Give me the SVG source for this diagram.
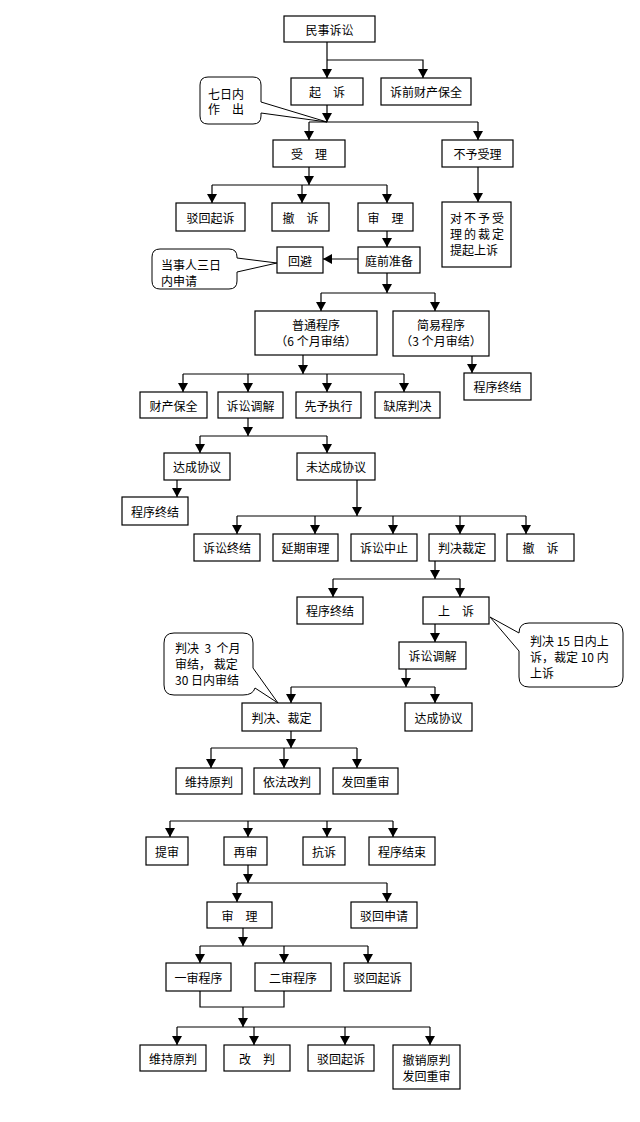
<svg xmlns="http://www.w3.org/2000/svg" width="640" height="1122" viewBox="0 0 640 1122">
<style>
.box{fill:#fff;stroke:#000;stroke-width:1.2}
.call{fill:#fff;stroke:#000;stroke-width:1}
.t{font-family:"Noto Sans CJK SC","Noto Sans",sans-serif;font-size:12px;fill:#000;text-anchor:middle;dominant-baseline:central}
.l{text-anchor:start}
.c{fill:none;stroke:#000;stroke-width:1.2}
.a{marker-end:url(#arr)}
</style>
<defs>
<marker id="arr" markerUnits="userSpaceOnUse" markerWidth="11" markerHeight="11" refX="9" refY="5" orient="auto">
<path d="M0,0 L9,5 L0,10 Z" fill="#000"/>
</marker>
</defs>
<rect width="640" height="1122" fill="#fff"/>
<g id="connectors">
<path class="c a" d="M327,42 V78"/>
<path class="c a" d="M327,60 H423 V78"/>
<path class="c a" d="M327,105 V122"/>
<path class="c" d="M309,122 H478"/>
<path class="c a" d="M309,122 V140"/>
<path class="c a" d="M478,122 V140"/>
<path class="c a" d="M309,167 V185"/>
<path class="c" d="M212,185 H387"/>
<path class="c a" d="M212,185 V203"/>
<path class="c a" d="M302,185 V203"/>
<path class="c a" d="M387,185 V203"/>
<path class="c a" d="M478,167 V202"/>
<path class="c a" d="M387,231 V247"/>
<path class="c a" d="M358,259 H323"/>
<path class="c a" d="M387,273 V293"/>
<path class="c" d="M321,293 H435"/>
<path class="c a" d="M321,293 V311"/>
<path class="c a" d="M435,293 V311"/>
<path class="c a" d="M472,356 V373"/>
<path class="c a" d="M303,355 V374"/>
<path class="c" d="M183,374 H404"/>
<path class="c a" d="M183,374 V392"/>
<path class="c a" d="M248,374 V392"/>
<path class="c a" d="M327,374 V392"/>
<path class="c a" d="M404,374 V392"/>
<path class="c a" d="M248,418 V436"/>
<path class="c" d="M200,436 H327"/>
<path class="c a" d="M200,436 V453"/>
<path class="c a" d="M327,436 V453"/>
<path class="c a" d="M177,480 V497"/>
<path class="c a" d="M357,480 V516"/>
<path class="c" d="M237,516 H526"/>
<path class="c a" d="M237,516 V534"/>
<path class="c a" d="M315,516 V534"/>
<path class="c a" d="M393,516 V534"/>
<path class="c a" d="M460,516 V534"/>
<path class="c a" d="M526,516 V534"/>
<path class="c a" d="M435,561 V579"/>
<path class="c" d="M333,579 H460"/>
<path class="c a" d="M333,579 V597"/>
<path class="c a" d="M460,579 V597"/>
<path class="c a" d="M435,624 V642"/>
<path class="c a" d="M406,669 V687"/>
<path class="c" d="M291,687 H435"/>
<path class="c a" d="M291,687 V703"/>
<path class="c a" d="M435,687 V703"/>
<path class="c a" d="M291,731 V748"/>
<path class="c" d="M211,748 H357"/>
<path class="c a" d="M211,748 V768"/>
<path class="c a" d="M284,748 V768"/>
<path class="c a" d="M357,748 V768"/>
<path class="c" d="M170,821 H393"/>
<path class="c a" d="M170,821 V837"/>
<path class="c a" d="M248,821 V837"/>
<path class="c a" d="M327,821 V837"/>
<path class="c a" d="M393,821 V837"/>
<path class="c a" d="M248,865 V883"/>
<path class="c" d="M237,883 H387"/>
<path class="c a" d="M237,883 V902"/>
<path class="c a" d="M387,883 V902"/>
<path class="c a" d="M243,928 V946"/>
<path class="c" d="M200,946 H368"/>
<path class="c a" d="M200,946 V963"/>
<path class="c a" d="M284,946 V963"/>
<path class="c a" d="M368,946 V963"/>
<path class="c" d="M200,991 V1007 H284 V991"/>
<path class="c a" d="M243,1007 V1027"/>
<path class="c" d="M177,1027 H430"/>
<path class="c a" d="M177,1027 V1045"/>
<path class="c a" d="M254,1027 V1045"/>
<path class="c a" d="M345,1027 V1045"/>
<path class="c a" d="M430,1027 V1045"/>
</g>
<g id="n1"><rect class="box" x="284" y="16" width="91" height="26"/><text class="t" x="329.5" y="29">民事诉讼</text></g>
<g id="n2"><rect class="box" x="291" y="78" width="72" height="27"/><text class="t" x="327" y="91.5">起　诉</text></g>
<g id="n3"><rect class="box" x="381" y="78" width="90" height="27"/><text class="t" x="426" y="91.5">诉前财产保全</text></g>
<g id="c1"><path class="call" d="M208,77 H253 Q261,77 261,85 V102 L327,122 L261,113 V116 Q261,124 253,124 H208 Q200,124 200,116 V85 Q200,77 208,77 Z"/><text class="t l" x="208" y="93">七日内</text><text class="t l" x="208" y="108">作　出</text></g>
<g id="n4"><rect class="box" x="273" y="140" width="72" height="27"/><text class="t" x="309" y="153.5">受　理</text></g>
<g id="n5"><rect class="box" x="442" y="140" width="71" height="27"/><text class="t" x="477.5" y="153.5">不予受理</text></g>
<g id="n6"><rect class="box" x="176" y="203" width="69" height="28"/><text class="t" x="210.5" y="217">驳回起诉</text></g>
<g id="n7"><rect class="box" x="272" y="203" width="57" height="28"/><text class="t" x="300.5" y="217">撤　诉</text></g>
<g id="n8"><rect class="box" x="358" y="203" width="55" height="28"/><text class="t" x="385.5" y="217">审　理</text></g>
<g id="n9"><rect class="box" x="442" y="202" width="69" height="65"/><text class="t l" x="450" y="217" letter-spacing="2">对不予受</text><text class="t l" x="450" y="233" letter-spacing="2">理的裁定</text><text class="t l" x="450" y="249">提起上诉</text></g>
<g id="n10"><rect class="box" x="358" y="247" width="62" height="26"/><text class="t" x="389" y="260">庭前准备</text></g>
<g id="n11"><rect class="box" x="277" y="247" width="46" height="26"/><text class="t" x="300" y="260">回避</text></g>
<g id="c2"><path class="call" d="M160,249 H229 Q237,249 237,257 V258 L277,263 L237,272 V281 Q237,289 229,289 H160 Q152,289 152,281 V257 Q152,249 160,249 Z"/><text class="t l" x="161" y="264">当事人三日</text><text class="t l" x="161" y="280">内申请</text></g>
<g id="n12"><rect class="box" x="255" y="311" width="122" height="44"/><text class="t" x="316" y="324">普通程序</text><text class="t" x="316" y="340">（6 个月审结）</text></g>
<g id="n13"><rect class="box" x="393" y="311" width="96" height="45"/><text class="t" x="441" y="324">简易程序</text><text class="t" x="441" y="340">（3 个月审结）</text></g>
<g id="n14"><rect class="box" x="464" y="373" width="67" height="27"/><text class="t" x="497.5" y="386.5">程序终结</text></g>
<g id="n15"><rect class="box" x="140" y="392" width="67" height="26"/><text class="t" x="173.5" y="405">财产保全</text></g>
<g id="n16"><rect class="box" x="218" y="392" width="65" height="26"/><text class="t" x="250.5" y="405">诉讼调解</text></g>
<g id="n17"><rect class="box" x="296" y="392" width="65" height="26"/><text class="t" x="328.5" y="405">先予执行</text></g>
<g id="n18"><rect class="box" x="375" y="392" width="65" height="26"/><text class="t" x="407.5" y="405">缺席判决</text></g>
<g id="n19"><rect class="box" x="164" y="453" width="66" height="27"/><text class="t" x="197" y="466.5">达成协议</text></g>
<g id="n20"><rect class="box" x="297" y="453" width="78" height="27"/><text class="t" x="336" y="466.5">未达成协议</text></g>
<g id="n21"><rect class="box" x="122" y="497" width="66" height="28"/><text class="t" x="155" y="511">程序终结</text></g>
<g id="n22"><rect class="box" x="194" y="534" width="66" height="27"/><text class="t" x="227" y="547.5">诉讼终结</text></g>
<g id="n23"><rect class="box" x="273" y="534" width="65" height="27"/><text class="t" x="305.5" y="547.5">延期审理</text></g>
<g id="n24"><rect class="box" x="351" y="534" width="66" height="27"/><text class="t" x="384" y="547.5">诉讼中止</text></g>
<g id="n25"><rect class="box" x="429" y="534" width="66" height="27"/><text class="t" x="462" y="547.5">判决裁定</text></g>
<g id="n26"><rect class="box" x="507" y="534" width="67" height="27"/><text class="t" x="540.5" y="547.5">撤　诉</text></g>
<g id="n27"><rect class="box" x="297" y="597" width="66" height="27"/><text class="t" x="330" y="610.5">程序终结</text></g>
<g id="n28"><rect class="box" x="423" y="597" width="66" height="27"/><text class="t" x="456" y="610.5">上　诉</text></g>
<g id="c4"><path class="call" d="M529,623 H613 Q623,623 623,633 V677 Q623,687 613,687 H529 Q519,687 519,677 V651 L490,617 L519,633 Q519,623 529,623 Z"/><text class="t l" x="530" y="640">判决 15 日内上</text><text class="t l" x="530" y="656">诉，裁定 10 内</text><text class="t l" x="530" y="672">上诉</text></g>
<g id="n29"><rect class="box" x="399" y="642" width="67" height="27"/><text class="t" x="432.5" y="655.5">诉讼调解</text></g>
<g id="c3"><path class="call" d="M174,633 H243 Q253,633 253,643 V668 L278,703 L255,688 Q253,695 243,695 H174 Q164,695 164,685 V643 Q164,633 174,633 Z"/><text class="t l" x="175" y="647" xml:space="preserve">判决  3  个月</text><text class="t l" x="175" y="663">审结， 裁定</text><text class="t l" x="175" y="679">30 日内审结</text></g>
<g id="n30"><rect class="box" x="242" y="703" width="79" height="28"/><text class="t" x="281.5" y="717">判决、裁定</text></g>
<g id="n31"><rect class="box" x="405" y="703" width="67" height="28"/><text class="t" x="438.5" y="717">达成协议</text></g>
<g id="n32"><rect class="box" x="176" y="768" width="66" height="26"/><text class="t" x="209" y="781">维持原判</text></g>
<g id="n33"><rect class="box" x="254" y="768" width="66" height="26"/><text class="t" x="287" y="781">依法改判</text></g>
<g id="n34"><rect class="box" x="333" y="768" width="65" height="26"/><text class="t" x="365.5" y="781">发回重审</text></g>
<g id="n35"><rect class="box" x="146" y="837" width="42" height="28"/><text class="t" x="167" y="851">提审</text></g>
<g id="n36"><rect class="box" x="224" y="837" width="43" height="28"/><text class="t" x="245.5" y="851">再审</text></g>
<g id="n37"><rect class="box" x="303" y="837" width="42" height="28"/><text class="t" x="324" y="851">抗诉</text></g>
<g id="n38"><rect class="box" x="369" y="837" width="66" height="28"/><text class="t" x="402" y="851">程序结束</text></g>
<g id="n39"><rect class="box" x="207" y="902" width="65" height="26"/><text class="t" x="239.5" y="915">审　理</text></g>
<g id="n40"><rect class="box" x="351" y="902" width="66" height="26"/><text class="t" x="384" y="915">驳回申请</text></g>
<g id="n41"><rect class="box" x="166" y="963" width="65" height="28"/><text class="t" x="198.5" y="977">一审程序</text></g>
<g id="n42"><rect class="box" x="255" y="963" width="76" height="28"/><text class="t" x="293" y="977">二审程序</text></g>
<g id="n43"><rect class="box" x="344" y="963" width="67" height="28"/><text class="t" x="377.5" y="977">驳回起诉</text></g>
<g id="n44"><rect class="box" x="140" y="1045" width="66" height="26"/><text class="t" x="173" y="1058">维持原判</text></g>
<g id="n45"><rect class="box" x="224" y="1045" width="66" height="26"/><text class="t" x="257" y="1058">改　判</text></g>
<g id="n46"><rect class="box" x="308" y="1045" width="66" height="26"/><text class="t" x="341" y="1058">驳回起诉</text></g>
<g id="n47"><rect class="box" x="393" y="1045" width="67" height="44"/><text class="t" x="426.5" y="1059">撤销原判</text><text class="t" x="426.5" y="1075">发回重审</text></g>
</svg>
